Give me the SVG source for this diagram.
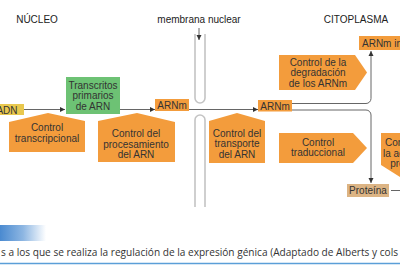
<svg xmlns="http://www.w3.org/2000/svg" width="400" height="267" viewBox="0 0 400 267">
<defs>
<marker id="ah" markerWidth="6" markerHeight="6" refX="5" refY="3" orient="auto" markerUnits="userSpaceOnUse">
<path d="M0,0.5 L5,3 L0,5.5 Z" fill="#333"/>
</marker>
<linearGradient id="bar" x1="0" y1="0" x2="1" y2="0">
<stop offset="0" stop-color="#4a8ad0"/>
<stop offset="0.5" stop-color="#8db6e2"/>
<stop offset="1" stop-color="#ffffff"/>
</linearGradient>
</defs>
<style>
text{font-family:"Liberation Sans",Arial,sans-serif;font-size:10px;fill:#333;text-anchor:middle}
.hdr{fill:#222}
.or{fill:#f39c3c}
.ln{fill:none;stroke:#666;stroke-width:1}
.mem{fill:none;stroke:#c4c4c4;stroke-width:1.6}
.cap{font-family:"Open Sans","Liberation Sans",sans-serif;font-size:10px;text-anchor:start;fill:#333}
</style>
<rect width="400" height="267" fill="#fff"/>

<g id="headers">
<text class="hdr" x="37" y="23">NÚCLEO</text>
<text class="hdr" x="199" y="23">membrana nuclear</text>
<text class="hdr" x="356" y="23">CITOPLASMA</text>
</g>

<g id="membrane">
<path class="mem" d="M195,34 V98 A5,5 0 0 0 205,98 V34"/>
<path class="mem" d="M195,207 V120 A5,5 0 0 1 205,120 V207"/>
</g>

<g id="connectors">
<line class="ln" x1="199" y1="28" x2="199" y2="40" marker-end="url(#ah)"/>
<line class="ln" x1="24" y1="109.5" x2="65" y2="109.5" marker-end="url(#ah)"/>
<line class="ln" x1="120" y1="109.5" x2="155" y2="109.5" marker-end="url(#ah)"/>
<line class="ln" x1="189" y1="109.5" x2="258" y2="109.5" marker-end="url(#ah)"/>
<path class="ln" d="M292,103.5 H366 A5,5 0 0 0 371,98.5 V51"  marker-end="url(#ah)"/>
<path class="ln" d="M292,110 H366 A5,5 0 0 1 371,115 V183" marker-end="url(#ah)"/>
<line class="ln" x1="391" y1="190.5" x2="400" y2="190.5"/>
</g>

<g id="adn">
<rect x="-5" y="104" width="29" height="11" fill="#e9c84e"/>
<text x="7" y="113.5">ADN</text>
</g>

<g id="transcritos">
<rect x="66" y="77" width="54" height="37" fill="#6dc274"/>
<text x="93" y="88.5">Transcritos</text>
<text x="93" y="98.5">primarios</text>
<text x="93" y="109.5">de ARN</text>
</g>

<g id="arnm1">
<rect class="or" x="155" y="99" width="34" height="12"/>
<text x="172" y="108.5">ARNm</text>
</g>

<g id="arnm2">
<rect class="or" x="258" y="100" width="34" height="11.5"/>
<text x="275" y="109.5">ARNm</text>
</g>

<g id="arnm-inactivo">
<rect class="or" x="359" y="36" width="60" height="14"/>
<text x="362" y="46.5" style="text-anchor:start">ARNm inactivo</text>
</g>

<g id="proteina">
<rect x="347" y="184" width="42" height="13" fill="#dcb484"/>
<text x="368" y="194">Proteína</text>
</g>

<g id="ctrl-transcripcional">
<polygon class="or" points="9,122 48,113 85,121 85,152 9,152"/>
<text x="47" y="131">Control</text>
<text x="47" y="142">transcripcional</text>
</g>

<g id="ctrl-procesamiento">
<polygon class="or" points="98,121 137,113 175,122 175,162 98,162"/>
<text x="136" y="137">Control del</text>
<text x="136" y="147.5">procesamiento</text>
<text x="136" y="158">del ARN</text>
</g>

<g id="ctrl-transporte">
<polygon class="or" points="209,121 237,113 265,121 265,163 209,163"/>
<text x="237" y="136.5">Control del</text>
<text x="237" y="147">transporte</text>
<text x="237" y="157.5">del ARN</text>
</g>

<g id="ctrl-degradacion">
<polygon class="or" points="279,55 355,55 367,72.5 355,90 279,90"/>
<text x="318" y="65.5">Control de la</text>
<text x="318" y="76">degradación</text>
<text x="318" y="86.5">de los ARNm</text>
</g>

<g id="ctrl-traduccional">
<polygon class="or" points="279,133 353,133 367,148 353,163 279,163"/>
<text x="318" y="146">Control</text>
<text x="318" y="156">traduccional</text>
</g>

<g id="ctrl-actividad">
<polygon class="or" points="381,133 436,133 436,165 408,182 381,165"/>
<text x="408" y="146">Control de</text>
<text x="408" y="156.5">la actividad</text>
<text x="408" y="167">proteica</text>
</g>

<g id="caption">
<rect x="0" y="225" width="46" height="16" fill="url(#bar)"/>
<text class="cap" x="1" y="256" textLength="397" lengthAdjust="spacingAndGlyphs">s a los que se realiza la regulación de la expresión génica (Adaptado de Alberts y cols</text>
<line x1="0" y1="263.5" x2="400" y2="263.5" stroke="#5b9fd8" stroke-width="1.5"/>
</g>
</svg>
